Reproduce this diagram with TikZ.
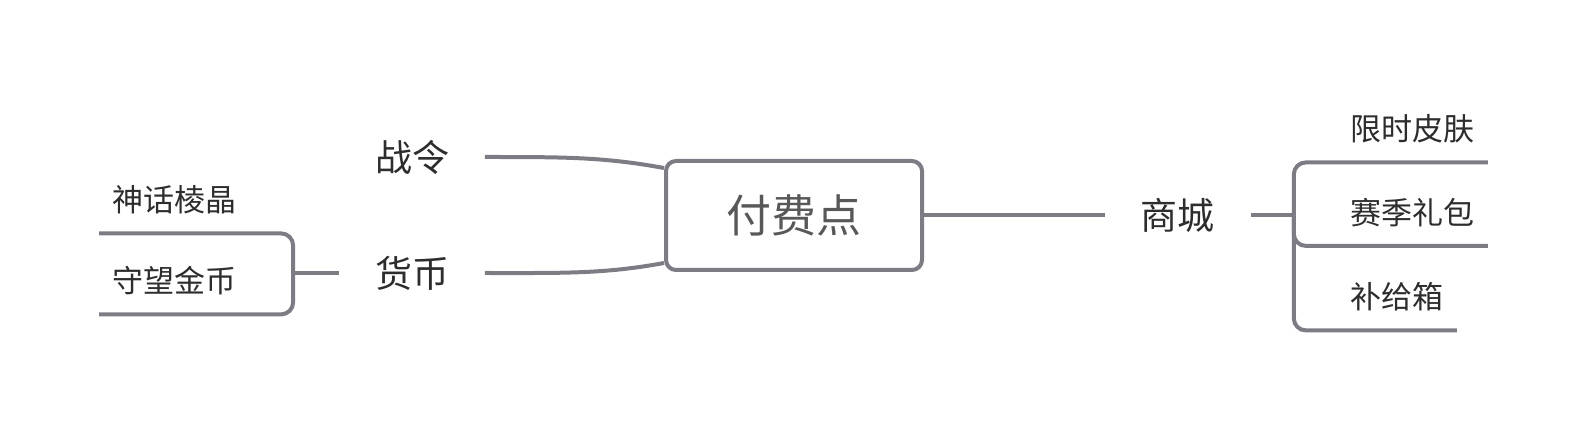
\documentclass[tikz,border=0pt]{standalone}
\usepackage{fontspec}
\newfontfamily\cjk{Noto Sans CJK SC}
\usetikzlibrary{positioning}
\definecolor{linegray}{RGB}{125,124,132}
\definecolor{textdark}{RGB}{45,45,45}
\definecolor{textmid}{RGB}{88,88,88}

\begin{document}
\begin{tikzpicture}[
    x=0.5pt, y=-0.5pt,
    central/.style={draw=linegray, line width=2pt, rounded corners=5pt, fill=white, minimum width=128pt, minimum height=54.5pt, text=textmid, font=\cjk\fontsize{22.5}{27}\selectfont},
    branch/.style={minimum width=72.5pt, inner sep=0pt, text=textdark, font=\cjk\fontsize{18.5}{22}\selectfont},
    leaf/.style={minimum height=33pt, inner xsep=6.5pt, inner ysep=0pt, anchor=west, text=textdark, font=\cjk\fontsize{15.5}{19}\selectfont},
    link/.style={draw=linegray, line width=2pt},
    node distance=90.5pt
  ]
    \useasboundingbox (0,0) rectangle (1588,432);
    \node[central] (pay) at (794,215.5) {付费点};
    \node[branch] (zl) at (412,157) {战令};
    \node[branch] (hb) at (412,273) {货币};
    \node[branch, right=of pay] (sc) {商城};
    \coordinate[right=21.5pt of sc] (rb);
    \coordinate[left=23pt of hb] (lb);
    \node[leaf] (shlj) at (99,200) {神话棱晶};
    \node[leaf] (swjb) at (99,281) {守望金币};
    \node[leaf] (xspf) at (1337,129) {限时皮肤};
    \node[leaf] (sjlb) at (1337,212.5) {赛季礼包};
    \node[leaf] (bjx) at (1337,297) {补给箱};
    \draw[link] (zl.east) .. controls +(80,0) and +(-60,-11) .. ([yshift=-4.5pt]pay.north west);
    \draw[link] (hb.east) .. controls +(80,0) and +(-60,11) .. ([yshift=4.5pt]pay.south west);
    \draw[link] (pay) -- (sc);
    \draw[link] (sc) -- (rb);
    \draw[link] (hb) -- (lb);
    \draw[link, rounded corners=6pt] (rb) |- (xspf.south west) -- (xspf.south east);
    \draw[link, rounded corners=6pt] (rb) |- (sjlb.south west) -- (sjlb.south east);
    \draw[link, rounded corners=6pt] (rb) |- (bjx.south west) -- (bjx.south east);
    \draw[link, rounded corners=6pt] (shlj.south west) -- (shlj.south east) -| (lb);
    \draw[link, rounded corners=6pt] (swjb.south west) -- (swjb.south east) -| (lb);
  \end{tikzpicture}
\end{document}
